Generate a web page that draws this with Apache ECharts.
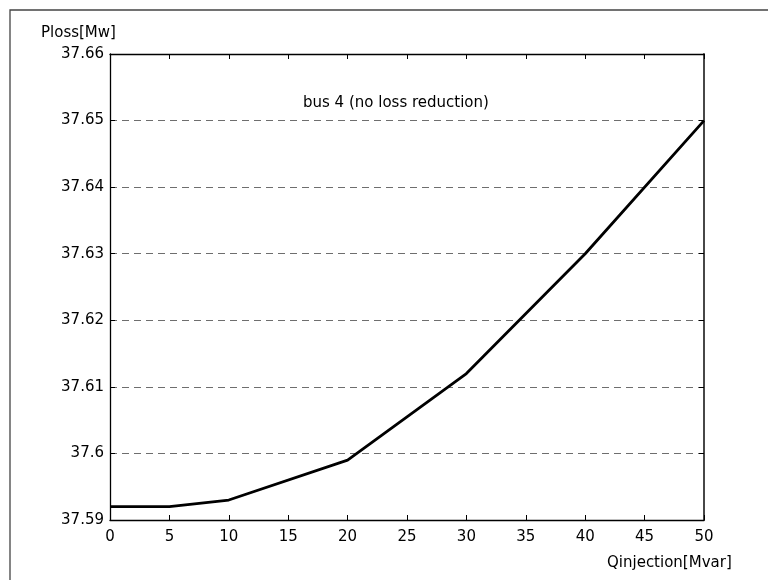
<!DOCTYPE html>
<html>
<head>
<meta charset="utf-8">
<script src="https://cdn.jsdelivr.net/npm/echarts@6/dist/echarts.min.js"></script>
<style>
html,body{margin:0;padding:0;background:#fff;}
#c{width:768px;height:580px;}
</style>
</head>
<body>
<div id="c"></div>
<script>
const qInjection = [0, 5, 10, 20, 30, 40, 50];
const pLoss = [37.592, 37.592, 37.593, 37.599, 37.612, 37.630, 37.650];
const xTitle = 'Qinjection[Mvar]';
const yTitle = 'Ploss[Mw]';
const annotation = 'bus 4 (no loss reduction)';

const FONT = 'DejaVu Sans';
const chart = echarts.init(document.getElementById('c'), null, {renderer: 'canvas'});
const fmtY = v => String(parseFloat(v.toFixed(2)));

chart.setOption({
  animation: false,
  backgroundColor: '#fff',
  grid: {left: 110, top: 54, right: 64, bottom: 60, containLabel: false},
  xAxis: [{
    type: 'value', min: 0, max: 50, interval: 5, position: 'bottom',
    axisLine: {show: true, onZero: false, lineStyle: {color: '#000', width: 1.3}},
    axisTick: {show: true, inside: true, length: 5, lineStyle: {color: '#000'}},
    axisLabel: {color: '#000', fontFamily: FONT, fontSize: 15, margin: 10},
    splitLine: {show: false}
  }, {
    type: 'value', min: 0, max: 50, interval: 5, position: 'top',
    axisLine: {show: true, onZero: false, lineStyle: {color: '#000', width: 1.3}},
    axisTick: {show: true, inside: true, length: 5, lineStyle: {color: '#000'}},
    axisLabel: {show: false},
    splitLine: {show: false}
  }],
  yAxis: [{
    type: 'value', min: 37.59, max: 37.66, interval: 0.01, position: 'left',
    axisLine: {show: true, onZero: false, lineStyle: {color: '#000', width: 1.3}},
    axisTick: {show: true, inside: true, length: 5, lineStyle: {color: '#000'}},
    axisLabel: {color: '#000', fontFamily: FONT, fontSize: 15, margin: 6, formatter: fmtY},
    splitLine: {show: true, lineStyle: {color: '#6e6e6e', width: 1.2, type: [7, 5]}}
  }, {
    type: 'value', min: 37.59, max: 37.66, interval: 0.01, position: 'right',
    axisLine: {show: true, onZero: false, lineStyle: {color: '#333', width: 1.8}},
    axisTick: {show: true, inside: true, length: 5, lineStyle: {color: '#000'}},
    axisLabel: {show: false},
    splitLine: {show: false}
  }],
  series: [{
    type: 'line',
    data: qInjection.map((q, i) => [q, pLoss[i]]),
    xAxisIndex: 0, yAxisIndex: 0,
    showSymbol: false, symbol: 'none',
    lineStyle: {color: '#000', width: 2.8},
    z: 5
  }],
  graphic: [
    {type: 'rect', shape: {x: 10, y: 10, width: 800, height: 620}, style: {fill: 'none', stroke: '#444', lineWidth: 1.3}, silent: true},
    {type: 'text', left: 41, top: 26, style: {text: yTitle, fontFamily: FONT, fontSize: 15, fill: '#000'}},
    {type: 'text', left: 607, top: 556, style: {text: xTitle, fontFamily: FONT, fontSize: 15, fill: '#000'}},
    {type: 'text', left: 303, top: 96, style: {text: annotation, fontFamily: FONT, fontSize: 15, fill: '#000'}}
  ]
});
</script>
</body>
</html>
